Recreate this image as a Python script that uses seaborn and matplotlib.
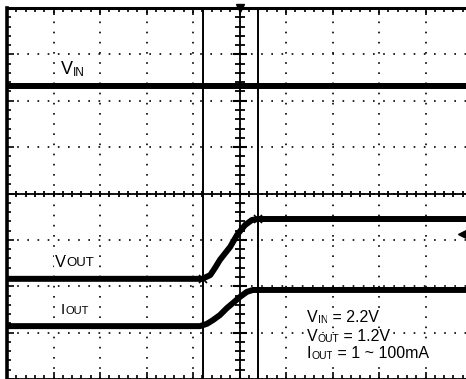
import numpy as np
import pandas as pd
import matplotlib
matplotlib.use("Agg")
import matplotlib.pyplot as plt
import seaborn as sns

# ---- data (screen divisions: 10 horizontal, 8 vertical) ----
t_vin = [0.0, 10.0]
vin = [6.32, 6.32]

t_vout = [0.0, 4.20, 4.37, 4.47, 4.58, 4.80, 4.95, 5.03, 5.12, 5.27, 5.40, 10.0]
vout = [2.16, 2.16, 2.24, 2.39, 2.57, 2.85, 3.11, 3.21, 3.32, 3.43, 3.45, 3.45]

t_iout = [0.0, 4.15, 4.30, 4.43, 4.58, 4.73, 4.86, 5.01, 5.16, 5.29, 5.44, 10.0]
iout = [1.14, 1.14, 1.19, 1.27, 1.38, 1.53, 1.64, 1.77, 1.88, 1.92, 1.92, 1.92]

cursor_t = [4.215, 5.398]
cursor_v = [2.16, 3.45]

trace_labels = ["V", "V", "I"]
trace_subs = ["IN", "OUT", "OUT"]
cond_lines = [("V", "IN", " = 2.2V"), ("V", "OUT", " = 1.2V"), ("I", "OUT", " = 1 ~ 100mA")]

df = pd.concat([
    pd.DataFrame({"t": t_vin, "v": vin, "sig": "VIN"}),
    pd.DataFrame({"t": t_vout, "v": vout, "sig": "VOUT"}),
    pd.DataFrame({"t": t_iout, "v": iout, "sig": "IOUT"}),
])

sns.set_style("white")
plt.rcParams["font.family"] = ["Liberation Sans", "DejaVu Sans"]

W, H = 466, 379
fig = plt.figure(figsize=(W / 100, H / 100), dpi=100)
ax = fig.add_axes([7 / W, 0, 465 / W, 371 / H])
ax.set_xlim(0, 10)
ax.set_ylim(0, 8)

# graticule
ax.set_xticks(range(0, 11))
ax.set_yticks(range(0, 9))
ax.set_xticks(np.arange(0, 10.01, 0.2), minor=True)
ax.set_yticks(np.arange(0, 8.01, 0.2), minor=True)
ax.tick_params(which="both", direction="in", top=True, bottom=True, left=True,
               right=False, labelbottom=False, labelleft=False, color="black", width=1.2)
ax.tick_params(which="major", length=5)
ax.tick_params(which="minor", length=3)
ax.grid(True, which="major", color="black", linestyle=(0, (1.0, 5.1)), linewidth=1.2)
for side, lw in [("left", 2.6), ("top", 2.2), ("bottom", 2.0), ("right", 1.0)]:
    ax.spines[side].set_linewidth(lw)
    ax.spines[side].set_color("black")

ax.axhline(4, color="black", lw=1.3, zorder=2)
ax.axvline(5, color="black", lw=1.3, zorder=2)
minor_x = np.arange(0, 10.01, 0.2)
minor_y = np.arange(0, 8.01, 0.2)
ax.plot(minor_x, np.full_like(minor_x, 4), ls="none", marker="|", ms=5, mew=1.3, color="black")
ax.plot(np.full_like(minor_y, 5), minor_y, ls="none", marker="_", ms=7, mew=1.3, color="black")
ax.plot(np.full(9, 5.0), np.arange(0, 9), ls="none", marker="_", ms=10, mew=1.5, color="black")

# cursors
for c in cursor_t:
    ax.axvline(c, color="black", lw=1.4, zorder=2)

# traces
sns.lineplot(data=df, x="t", y="v", hue="sig", palette=["black"] * 3, legend=False,
             lw=4.3, ax=ax, estimator=None, sort=False, zorder=3)
for ln in ax.lines[-3:]:
    ln.set_solid_joinstyle("round")
    ln.set_solid_capstyle("butt")

ax.plot(cursor_t, cursor_v, ls="none", marker="x", ms=6, mew=1.2, color="black", zorder=4)
ax.plot([5], [8], ls="none", marker="v", ms=6, color="black", clip_on=False, zorder=5)
ax.plot([9.785], [3.13], ls="none", marker="<", ms=6, color="black", clip_on=False, zorder=5)

K = 0.21
BOX = dict(facecolor="white", edgecolor="none", pad=0.6)


def chain(x, y, pieces):
    """pieces: list of (text, size_pt, baseline_shift_pt)"""
    s0, z0, sh0 = pieces[0]
    prev = ax.text(x, y, s0, fontsize=z0, va="baseline", ha="left", color="black",
                   zorder=6, bbox=BOX)
    pz, psh = z0, sh0
    for s, z, sh in pieces[1:]:
        dy = (sh - psh) + K * pz - K * z
        prev = ax.annotate(s, xy=(1, 0), xycoords=prev, xytext=(0, dy),
                           textcoords="offset points", fontsize=z, va="bottom",
                           ha="left", color="black", zorder=6, bbox=BOX)
        pz, psh = z, sh


# trace labels
chain(1.16, 6.58, [(trace_labels[0], 13, 0), (trace_subs[0], 8.5, -1.5)])
chain(1.03, 2.415, [(trace_labels[1], 12, 0), (trace_subs[1], 9.5, 0)])
chain(1.16, 1.40, [(trace_labels[2], 11, 0), (trace_subs[2], 8, 0)])

# conditions
ys = [1.229, 0.819, 0.453]
for (m, s, rest), yy in zip(cond_lines, ys):
    chain(6.45, yy, [(m, 11.5, 0), (s, 7.5, -0.8), (rest, 11.5, 0)])

fig.savefig("out.png", dpi=100)
